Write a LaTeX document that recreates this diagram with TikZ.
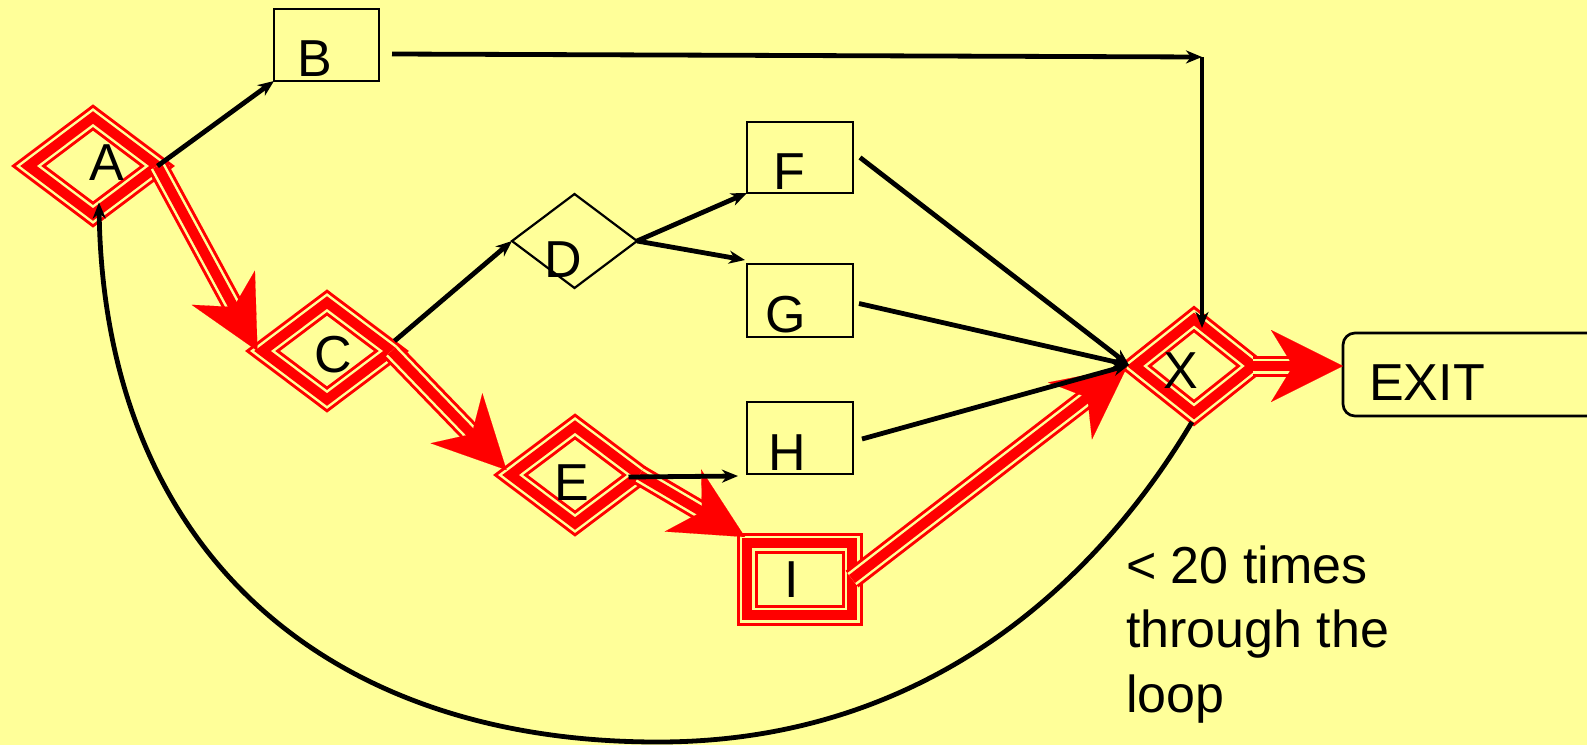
\documentclass[tikz,border=0pt]{standalone}
\usepackage{fontspec}
\setmainfont{Liberation Sans}
\usetikzlibrary{arrows.meta,shapes.geometric,calc}
\definecolor{bgc}{HTML}{FFFF99}
\definecolor{rd}{HTML}{FF0000}
\newcommand\redarrow[2]{%
  \draw[rd, line width=21pt, shorten >=45pt] (#1) -- (#2);
  \draw[bgc, line width=15pt, shorten >=45pt] (#1) -- (#2);
  \draw[rd, line width=10pt, shorten >=45pt] (#1) -- (#2);
  \draw[rd, line width=0.1pt, -{Stealth[length=72pt,width=72pt,inset=22pt]}] ($(#2)!74pt!(#1)$) -- (#2);
}
\begin{document}
\begin{tikzpicture}[x=1pt,y=-1pt,
  lbl/.style={font=\fontsize{52}{64.5}\selectfont, inner sep=0pt, anchor=base},
  tri/.style={draw=rd, line width=21pt, line join=miter, outer sep=0pt, inner sep=0pt,
      postaction={draw=bgc, line width=15pt}, postaction={draw=rd, line width=10pt}},
  dia/.style={tri, diamond, minimum width=129pt, minimum height=97pt},
  bx/.style={draw=black, line width=2.7pt, rectangle, inner sep=0pt, outer sep=0pt},
  arr/.style={black, line width=4.8pt, -{Stealth[length=16pt,width=13pt,inset=5pt]}},
]
\fill[bgc] (0,0) rectangle (1587,745);
\useasboundingbox (0,0) rectangle (1587,745);

% shapes
\node[dia] (A) at (93,166) {};
\node[dia] (C) at (327,351) {};
\node[dia] (E) at (575,475) {};
\node[dia, minimum width=118pt, minimum height=94pt] (X) at (1194,366) {};
\node[tri, rectangle, minimum width=105pt, minimum height=72pt] (I) at (799.5,579) {};
\node[draw, diamond, line width=2.2pt, minimum width=125pt, minimum height=94pt, inner sep=0pt, outer sep=0pt] (D) at (574.5,241) {};
\node[bx, minimum width=105pt, minimum height=72pt] (B) at (326.5,45) {};
\node[bx, minimum width=106pt, minimum height=71pt] (F) at (800,157.5) {};
\node[bx, minimum width=106pt, minimum height=73pt] (G) at (800,300.5) {};
\node[bx, minimum width=106pt, minimum height=72pt] (H) at (800,438) {};
\node[bx, rounded corners=12pt, minimum width=300pt, minimum height=83pt] (EXIT) at (1493,374.5) {};

% labels
\node[lbl] (A-l) at (107,180) {A};
\node[lbl] (B-l) at (315,76) {B};
\node[lbl] (C-l) at (333,372) {C};
\node[lbl] (D-l) at (563,277) {D};
\node[lbl] (E-l) at (572,500) {E};
\node[lbl] (F-l) at (789,189) {F};
\node[lbl] (G-l) at (786,332) {G};
\node[lbl] (H-l) at (787,470) {H};
\node[lbl] (I-l) at (792,597) {I};
\node[lbl] (X-l) at (1181,388) {X};
\node[lbl, anchor=base west] (EXIT-l) at (1369,400) {EXIT};
\node[lbl, anchor=base west] (note) at (1126,583) {\begin{tabular}[t]{@{}l@{}}< 20 times\\through the\\loop\end{tabular}};

% red path
\coordinate (tC) at ($(C.west)+(-5,0)$);
\coordinate (tE) at ($(E.west)+(-4,-5)$);
\coordinate (tI) at ($(I.north west)+(-2,-6)$);
\coordinate (tX) at ($(X.west)+(-8,1)$);
\coordinate (tEX) at (X.east -| EXIT.west);
\redarrow{A.east}{tC}
\redarrow{C.east}{tE}
\redarrow{E.east}{tI}
\redarrow{I.east}{tX}
\redarrow{X.east}{tEX}

% black connectors
\coordinate (k) at (1202,57);
\coordinate (xin) at ($(X.west)+(-6,-1)$);
\draw[arr] (A.east) -- (B.south west);
\draw[arr] ($(B.east)+(13,9)$) -- (k);
\draw[arr] (k) -- ($(k |- X.north)+(0,9)$);
\draw[arr] ($(C.east)+(3,-10)$) -- (D.west);
\draw[arr] (D.east) -- (F.south west);
\draw[arr] (D.east) -- ($(G.north west)+(-2,-4)$);
\draw[arr] ($(E.east)+(-11,2)$) -- ($(H.south west)+(-9,2)$);
\draw[arr] ($(F.east)+(7,0)$) -- (xin);
\draw[arr] ($(G.east)+(6,3)$) -- (xin);
\draw[arr] ($(H.east)+(9,1)$) -- (xin);
\draw[arr] ($(X.south)+(-2,9)$) .. controls (1110,560) and (945,742) .. (658,742)
  .. controls (320,742) and (104,545) .. ($(A.south)+(6,-12)$);
\end{tikzpicture}
\end{document}
